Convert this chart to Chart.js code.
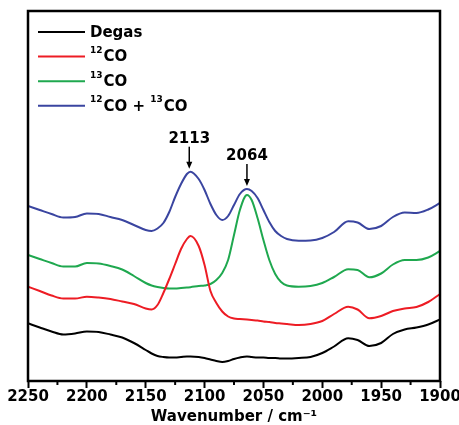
<!DOCTYPE html>
<html>
<head>
<meta charset="utf-8">
<script src="https://cdn.jsdelivr.net/npm/chart.js@4.4.1/dist/chart.umd.min.js"></script>
<style>
  html, body { margin: 0; padding: 0; background: #fff; }
  #wrap { width: 459px; height: 425px; }
</style>
</head>
<body>
<div id="wrap"><canvas id="irChart" width="459" height="425"></canvas></div>
<script>
// wavenumbers (cm-1), shared by every spectrum
const wavenumbers = [2250,2240,2230,2220,2210,2200,2190,2180,2170,2160,2150,2145,2140,2135,2130,2125,2120,2115,2112,2105,2100,2095,2090,2085,2080,2075,2070,2064,2060,2055,2050,2045,2040,2035,2030,2020,2010,2000,1990,1978,1970,1960,1950,1940,1930,1920,1910,1900];

// absorbance (a.u., offset for display)
const degas = [0.577,0.535,0.495,0.465,0.475,0.495,0.49,0.465,0.435,0.38,0.31,0.275,0.25,0.24,0.235,0.235,0.24,0.245,0.245,0.24,0.23,0.215,0.20,0.19,0.20,0.22,0.235,0.245,0.24,0.235,0.235,0.23,0.23,0.225,0.225,0.23,0.24,0.28,0.345,0.428,0.41,0.35,0.38,0.47,0.515,0.535,0.565,0.615];
const co12 = [0.943,0.90,0.855,0.825,0.825,0.843,0.835,0.82,0.795,0.77,0.725,0.715,0.76,0.88,1.02,1.17,1.32,1.42,1.45,1.35,1.16,0.90,0.78,0.695,0.645,0.625,0.62,0.614,0.61,0.605,0.595,0.59,0.58,0.575,0.57,0.56,0.57,0.60,0.67,0.743,0.715,0.627,0.65,0.70,0.725,0.74,0.79,0.87];
const co13 = [1.26,1.22,1.18,1.145,1.145,1.18,1.175,1.15,1.115,1.05,0.98,0.955,0.94,0.93,0.925,0.925,0.93,0.935,0.938,0.95,0.955,0.97,1.01,1.08,1.21,1.46,1.71,1.86,1.81,1.63,1.41,1.21,1.07,0.99,0.955,0.943,0.95,0.98,1.04,1.118,1.11,1.037,1.075,1.165,1.21,1.21,1.235,1.30];
const coMix = [1.75,1.71,1.67,1.635,1.64,1.675,1.67,1.64,1.61,1.56,1.51,1.50,1.525,1.58,1.69,1.84,1.97,2.07,2.093,2.02,1.91,1.77,1.66,1.61,1.65,1.76,1.87,1.92,1.90,1.83,1.71,1.59,1.50,1.45,1.42,1.403,1.405,1.43,1.49,1.598,1.585,1.52,1.55,1.64,1.685,1.68,1.715,1.78];

// legend labels: [superscript, text] pieces
const seriesLabels = [
  [['', 'Degas']],
  [['12', 'CO']],
  [['13', 'CO']],
  [['12', 'CO + '], ['13', 'CO']]
];
const seriesColors = ['#000000', '#ed1c24', '#1fa84f', '#3a45a0'];
const seriesValues = [degas, co12, co13, coMix];

// peak markers
const peakPositions = [2113, 2064];
const peakLabels = ['2113', '2064'];

const FONT = '"DejaVu Sans", "Liberation Sans", Arial, sans-serif';

const extras = {
  id: 'extras',
  afterDraw(chart) {
    const ctx = chart.ctx;
    const a = chart.chartArea;
    const xs = chart.scales.x, ys = chart.scales.y;
    ctx.save();
    // frame
    ctx.strokeStyle = '#000';
    ctx.lineWidth = 2.5;
    ctx.strokeRect(a.left, a.top, a.right - a.left, a.bottom - a.top);
    // minor ticks
    ctx.lineWidth = 2;
    for (let v = 2225; v > 1900; v -= 50) {
      const px = xs.getPixelForValue(v);
      ctx.beginPath();
      ctx.moveTo(px, a.bottom);
      ctx.lineTo(px, a.bottom + 4);
      ctx.stroke();
    }
    // legend
    ctx.textBaseline = 'middle';
    seriesLabels.forEach((parts, i) => {
      const y = a.top + 21 + i * 24.6;
      ctx.strokeStyle = seriesColors[i];
      ctx.lineWidth = 2;
      ctx.beginPath();
      ctx.moveTo(a.left + 10, y);
      ctx.lineTo(a.left + 57, y);
      ctx.stroke();
      let x = a.left + 62;
      ctx.fillStyle = '#000';
      parts.forEach(([sup, txt]) => {
        if (sup) {
          ctx.font = 'bold 9px ' + FONT;
          ctx.fillText(sup, x, y - 6);
          x += ctx.measureText(sup).width + 1;
        }
        ctx.font = 'bold 15px ' + FONT;
        ctx.fillText(txt, x, y + 1);
        x += ctx.measureText(txt).width;
      });
    });
    // peak arrows and labels
    ctx.textAlign = 'center';
    peakPositions.forEach((w, k) => {
      let top = -Infinity;
      wavenumbers.forEach((wn, j) => { if (Math.abs(wn - w) <= 6) top = Math.max(top, coMix[j]); });
      const px = xs.getPixelForValue(w);
      const py = ys.getPixelForValue(top) - 4;
      ctx.strokeStyle = '#000';
      ctx.fillStyle = '#000';
      ctx.lineWidth = 1.5;
      ctx.beginPath();
      ctx.moveTo(px, py - 21);
      ctx.lineTo(px, py - 4);
      ctx.stroke();
      ctx.beginPath();
      ctx.moveTo(px - 3, py - 6);
      ctx.lineTo(px + 3, py - 6);
      ctx.lineTo(px, py + 1);
      ctx.closePath();
      ctx.fill();
      ctx.font = 'bold 15px ' + FONT;
      ctx.fillText(peakLabels[k], px, py - 29);
    });
    ctx.restore();
  }
};

const ctx = document.getElementById('irChart').getContext('2d');
const irChart = new Chart(ctx, {
  type: 'line',
  data: {
    datasets: seriesValues.map((vals, i) => ({
      label: seriesLabels[i].map(p => p[1]).join(''),
      data: wavenumbers.map((w, j) => ({ x: w, y: vals[j] })),
      borderColor: seriesColors[i],
      borderWidth: 2,
      pointRadius: 0,
      cubicInterpolationMode: 'monotone',
      fill: false
    }))
  },
  options: {
    responsive: false,
    animation: false,
    layout: { padding: { left: 28, right: 19, top: 11, bottom: 0 } },
    plugins: { legend: { display: false }, tooltip: { enabled: false } },
    scales: {
      x: {
        type: 'linear',
        reverse: true,
        min: 1900,
        max: 2250,
        border: { display: false },
        grid: { drawOnChartArea: false, drawTicks: true, tickLength: 7, tickWidth: 2, tickColor: '#000' },
        ticks: { stepSize: 50, autoSkip: false, maxRotation: 0, padding: 0, color: '#000',
                 callback: v => String(v),
                 font: { family: FONT, weight: 'bold', size: 15 } },
        title: { display: true, text: 'Wavenumber / cm\u207B\u00B9', color: '#000', padding: 0,
                 font: { family: FONT, weight: 'bold', size: 15, lineHeight: 1 } },
        afterFit(s) { s.height = 44; s.paddingLeft = 0; s.paddingRight = 0; }
      },
      y: { display: false, min: 0, max: 3.7 }
    }
  },
  plugins: [extras]
});
</script>
</body>
</html>
